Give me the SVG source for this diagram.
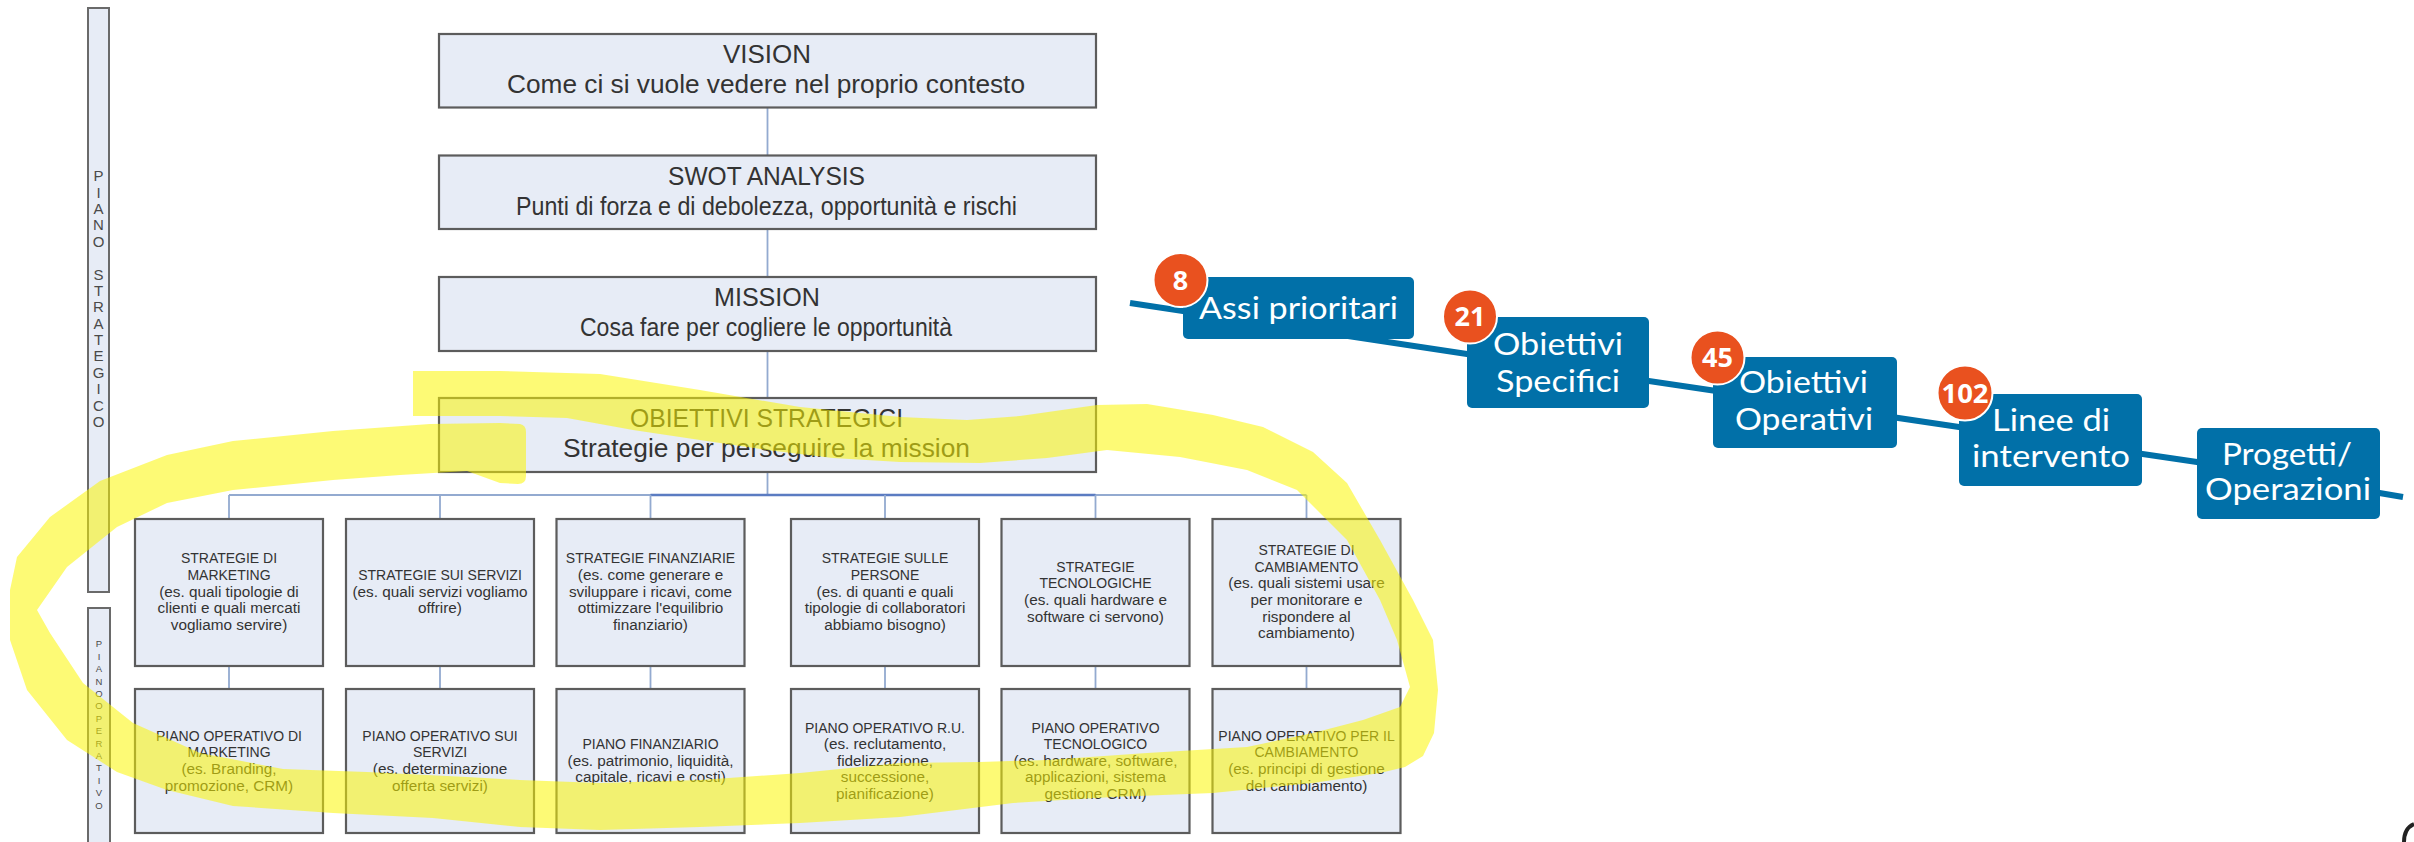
<svg xmlns="http://www.w3.org/2000/svg" width="2414" height="842" viewBox="0 0 2414 842">
<style>
.box{fill:#e7ecf6;stroke:#5c5c5c;stroke-width:2.2}
.bar{fill:#e7ecf6;stroke:#6a6a6a;stroke-width:2}
.tt{font-family:"Liberation Sans",Arial,sans-serif;font-size:25px;fill:#333}
.s{font-family:"Liberation Sans",Arial,sans-serif;font-size:15.3px;fill:#333;text-anchor:middle}
.c{font-size:14px}
.bl{font-family:"Liberation Sans",Arial,sans-serif;fill:#4a4a4a;text-anchor:middle}
.conn{stroke:#93aad0;stroke-width:1.8;fill:none}
.bbox{fill:#0170a8}
.wt{font-family:Lato,"Open Sans",sans-serif;font-size:30px;fill:#fff}
.badge{fill:#e9511f;stroke:#fff;stroke-width:2}
.num{font-family:"Open Sans","Noto Sans",sans-serif;font-weight:700;font-size:27px;fill:#fff;text-anchor:middle}
</style>
<rect width="2414" height="842" fill="#fff"/>

<g id="bar-strategico">
<rect class="bar" x="88" y="8" width="21" height="584"/>
<text class="bl" font-size="15" x="98.5 98.5 98.5 98.5 98.5 98.5 98.5 98.5 98.5 98.5 98.5 98.5 98.5 98.5 98.5 98.5" y="181.3 197.7 214 230.4 246.8 263.2 279.5 295.9 312.3 328.6 345 361.4 377.7 394.1 410.5 426.9">PIANO STRATEGICO</text>
</g>
<g id="bar-operativo">
<rect class="bar" x="88" y="608" width="22" height="250"/>
<text class="bl" font-size="9.5" x="99 99 99 99 99 99 99 99 99 99 99 99 99 99 99" y="647.4 659.8 672.2 684.6 697 697 709.4 721.8 734.2 746.6 759 771.4 783.8 796.2 808.6">PIANO OPERATIVO</text>
</g>

<g id="connectors">
<path class="conn" d="M767.5 107.5V155.5M767.5 229V277M767.5 351V398M767.5 472V495"/>
<path class="conn" d="M229 495H1306.5"/>
<path d="M650.5 495H1095.5" stroke="#5b7cc2" stroke-width="2.6" fill="none"/>
<path class="conn" d="M229 495V519M440 495V519M650.5 495V519M885 495V519M1095.5 495V519M1306.5 495V519"/>
<path class="conn" d="M229 666V689M440 666V689M650.5 666V689M885 666V689M1095.5 666V689M1306.5 666V689"/>
<polyline points="1130,303 1467,354 1713,390.5 1959,427 2197,462 2403,497" fill="none" stroke="#0170a8" stroke-width="6"/>
</g>

<g id="vision">
<rect class="box" x="439" y="34" width="657" height="73.5"/>
<text class="tt" x="723" y="63" textLength="88" lengthAdjust="spacingAndGlyphs">VISION</text>
<text class="tt" x="507" y="93" textLength="518" lengthAdjust="spacingAndGlyphs">Come ci si vuole vedere nel proprio contesto</text>
</g>
<g id="swot">
<rect class="box" x="439" y="155.5" width="657" height="73.5"/>
<text class="tt" x="668" y="184.5" textLength="197" lengthAdjust="spacingAndGlyphs">SWOT ANALYSIS</text>
<text class="tt" x="516" y="214.5" textLength="501" lengthAdjust="spacingAndGlyphs">Punti di forza e di debolezza, opportunità e rischi</text>
</g>
<g id="mission">
<rect class="box" x="439" y="277" width="657" height="74"/>
<text class="tt" x="714" y="306" textLength="106" lengthAdjust="spacingAndGlyphs">MISSION</text>
<text class="tt" x="580" y="336" textLength="372" lengthAdjust="spacingAndGlyphs">Cosa fare per cogliere le opportunità</text>
</g>
<g id="obiettivi-strategici">
<rect class="box" x="439" y="398" width="657" height="74"/>
<text class="tt" x="630" y="427" textLength="273" lengthAdjust="spacingAndGlyphs">OBIETTIVI STRATEGICI</text>
<text class="tt" x="563" y="457" textLength="407" lengthAdjust="spacingAndGlyphs">Strategie per perseguire la mission</text>
</g>

<g id="strategie-marketing">
<rect class="box" x="135" y="519" width="188" height="147"/>
<text class="s c" x="229" y="563.4">STRATEGIE DI</text>
<text class="s c" x="229" y="580">MARKETING</text>
<text class="s" x="229" y="596.6">(es. quali tipologie di</text>
<text class="s" x="229" y="613.2">clienti e quali mercati</text>
<text class="s" x="229" y="629.8">vogliamo servire)</text>
</g>
<g id="strategie-servizi">
<rect class="box" x="346" y="519" width="188" height="147"/>
<text class="s c" x="440" y="580">STRATEGIE SUI SERVIZI</text>
<text class="s" x="440" y="596.6">(es. quali servizi vogliamo</text>
<text class="s" x="440" y="613.2">offrire)</text>
</g>
<g id="strategie-finanziarie">
<rect class="box" x="556.5" y="519" width="188" height="147"/>
<text class="s c" x="650.5" y="563.4">STRATEGIE FINANZIARIE</text>
<text class="s" x="650.5" y="580">(es. come generare e</text>
<text class="s" x="650.5" y="596.6">sviluppare i ricavi, come</text>
<text class="s" x="650.5" y="613.2">ottimizzare l'equilibrio</text>
<text class="s" x="650.5" y="629.8">finanziario)</text>
</g>
<g id="strategie-persone">
<rect class="box" x="791" y="519" width="188" height="147"/>
<text class="s c" x="885" y="563.4">STRATEGIE SULLE</text>
<text class="s c" x="885" y="580">PERSONE</text>
<text class="s" x="885" y="596.6">(es. di quanti e quali</text>
<text class="s" x="885" y="613.2">tipologie di collaboratori</text>
<text class="s" x="885" y="629.8">abbiamo bisogno)</text>
</g>
<g id="strategie-tecnologiche">
<rect class="box" x="1001.5" y="519" width="188" height="147"/>
<text class="s c" x="1095.5" y="571.7">STRATEGIE</text>
<text class="s c" x="1095.5" y="588.3">TECNOLOGICHE</text>
<text class="s" x="1095.5" y="604.9">(es. quali hardware e</text>
<text class="s" x="1095.5" y="621.5">software ci servono)</text>
</g>
<g id="strategie-cambiamento">
<rect class="box" x="1212.5" y="519" width="188" height="147"/>
<text class="s c" x="1306.5" y="555">STRATEGIE DI</text>
<text class="s c" x="1306.5" y="571.7">CAMBIAMENTO</text>
<text class="s" x="1306.5" y="588.3">(es. quali sistemi usare</text>
<text class="s" x="1306.5" y="604.9">per monitorare e</text>
<text class="s" x="1306.5" y="621.5">rispondere al</text>
<text class="s" x="1306.5" y="638.1">cambiamento)</text>
</g>

<g id="piano-marketing">
<rect class="box" x="135" y="689" width="188" height="144"/>
<text class="s c" x="229" y="740.8">PIANO OPERATIVO DI</text>
<text class="s c" x="229" y="757.4">MARKETING</text>
<text class="s" x="229" y="774">(es. Branding,</text>
<text class="s" x="229" y="790.6">promozione, CRM)</text>
</g>
<g id="piano-servizi">
<rect class="box" x="346" y="689" width="188" height="144"/>
<text class="s c" x="440" y="740.8">PIANO OPERATIVO SUI</text>
<text class="s c" x="440" y="757.4">SERVIZI</text>
<text class="s" x="440" y="774">(es. determinazione</text>
<text class="s" x="440" y="790.6">offerta servizi)</text>
</g>
<g id="piano-finanziario">
<rect class="box" x="556.5" y="689" width="188" height="144"/>
<text class="s c" x="650.5" y="749.1">PIANO FINANZIARIO</text>
<text class="s" x="650.5" y="765.7">(es. patrimonio, liquidità,</text>
<text class="s" x="650.5" y="782.3">capitale, ricavi e costi)</text>
</g>
<g id="piano-ru">
<rect class="box" x="791" y="689" width="188" height="144"/>
<text class="s c" x="885" y="732.5">PIANO OPERATIVO R.U.</text>
<text class="s" x="885" y="749.1">(es. reclutamento,</text>
<text class="s" x="885" y="765.7">fidelizzazione,</text>
<text class="s" x="885" y="782.3">successione,</text>
<text class="s" x="885" y="798.9">pianificazione)</text>
</g>
<g id="piano-tecnologico">
<rect class="box" x="1001.5" y="689" width="188" height="144"/>
<text class="s c" x="1095.5" y="732.5">PIANO OPERATIVO</text>
<text class="s c" x="1095.5" y="749.1">TECNOLOGICO</text>
<text class="s" x="1095.5" y="765.7">(es. hardware, software,</text>
<text class="s" x="1095.5" y="782.3">applicazioni, sistema</text>
<text class="s" x="1095.5" y="798.9">gestione CRM)</text>
</g>
<g id="piano-cambiamento">
<rect class="box" x="1212.5" y="689" width="188" height="144"/>
<text class="s c" x="1306.5" y="740.8">PIANO OPERATIVO PER IL</text>
<text class="s c" x="1306.5" y="757.4">CAMBIAMENTO</text>
<text class="s" x="1306.5" y="774">(es. principi di gestione</text>
<text class="s" x="1306.5" y="790.6">del cambiamento)</text>
</g>

<g id="highlight">
<path fill="rgb(252,246,0)" fill-opacity="0.54" d="M413 371L500 371L600 374L700 390L800 407L900 417L967 420L1020 416L1097 405L1147 404L1213 415L1263 427L1313 452L1347 483L1380 540L1413 600L1433 640L1438 690L1434 733L1423 756L1405 767L1380 773L1313 783L1213 793L1113 797L1013 803L900 817L800 823L700 827L600 830L520 827L433 818L333 813L233 806L167 790L117 772L67 740L27 690L10 640L10 590L17 557L50 517L100 481L167 455L233 441L333 431L430 424L500 423L520 424Q526 425 526 432L526 476Q526 484 518 484L500 483L467 471L400 475L333 480L233 490L167 503L117 527L67 567L37 610L50 633L83 683L133 723L200 753L283 769L367 772L467 777L520 780L600 783L700 780L800 773L900 763L980 762L1047 760L1147 753L1247 747L1313 733L1363 720L1400 707L1410 687L1397 640L1380 600L1347 540L1297 490L1247 470L1180 457L1107 450L1047 458L980 463L900 462L833 458L767 450L700 440L633 430L567 418L500 416L413 416Z"/>
</g>

<g id="assi-prioritari">
<rect class="bbox" x="1183" y="277" width="231" height="62" rx="5"/>
<text class="wt" x="1199" y="319" textLength="199" lengthAdjust="spacingAndGlyphs">Assi prioritari</text>
<circle class="badge" cx="1180.5" cy="280" r="27"/>
<text class="num" x="1180.5" y="289.7">8</text>
</g>
<g id="obiettivi-specifici">
<rect class="bbox" x="1467" y="317" width="182" height="91" rx="5"/>
<text class="wt" x="1493" y="355" textLength="130" lengthAdjust="spacingAndGlyphs">Obiettivi</text>
<text class="wt" x="1496" y="391.7" textLength="124" lengthAdjust="spacingAndGlyphs">Specifici</text>
<circle class="badge" cx="1470" cy="316.5" r="27"/>
<text class="num" x="1470" y="326.2">21</text>
</g>
<g id="obiettivi-operativi">
<rect class="bbox" x="1713" y="357" width="184" height="91" rx="5"/>
<text class="wt" x="1739" y="393" textLength="129" lengthAdjust="spacingAndGlyphs">Obiettivi</text>
<text class="wt" x="1735" y="430" textLength="138" lengthAdjust="spacingAndGlyphs">Operativi</text>
<circle class="badge" cx="1717.5" cy="357.5" r="27"/>
<text class="num" x="1717.5" y="367.2">45</text>
</g>
<g id="linee-intervento">
<rect class="bbox" x="1959" y="394" width="183" height="92" rx="5"/>
<text class="wt" x="1992" y="430.7" textLength="118" lengthAdjust="spacingAndGlyphs">Linee di</text>
<text class="wt" x="1972" y="467.3" textLength="158" lengthAdjust="spacingAndGlyphs">intervento</text>
<circle class="badge" cx="1965" cy="393" r="27.5"/>
<text class="num" x="1965" y="402.7" textLength="47" lengthAdjust="spacingAndGlyphs">102</text>
</g>
<g id="progetti-operazioni">
<rect class="bbox" x="2197" y="428" width="183" height="91" rx="5"/>
<text class="wt" x="2222" y="465" textLength="130" lengthAdjust="spacingAndGlyphs">Progetti/</text>
<text class="wt" x="2205" y="500" textLength="166" lengthAdjust="spacingAndGlyphs">Operazioni</text>
</g>

<path d="M2414 824Q2404 828 2404 842" fill="none" stroke="#222" stroke-width="4"/>
</svg>
